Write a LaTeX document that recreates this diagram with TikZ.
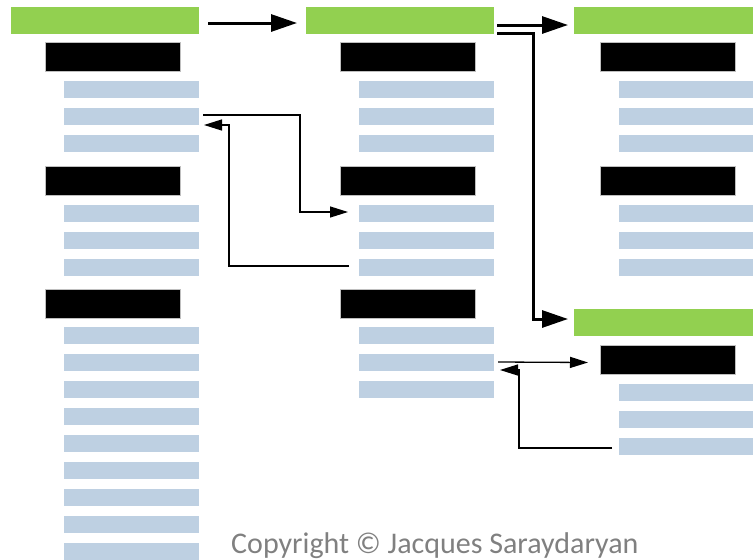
\documentclass[tikz,border=0pt]{standalone}
\usepackage{fontspec}
\setmainfont{Carlito}
\usetikzlibrary{arrows.meta,calc}
\definecolor{bargreen}{HTML}{92D050}
\definecolor{barblue}{HTML}{BED0E2}
\definecolor{notegray}{HTML}{808080}
\begin{document}
\begin{tikzpicture}[x=1pt,y=-1pt,
  greenbar/.style={fill=bargreen, minimum width=188pt, minimum height=27pt, inner sep=0pt, outer sep=0pt, anchor=north west},
  headbox/.style={fill=black, draw=black!25, line width=0.6pt, minimum width=135pt, minimum height=29pt, inner sep=0pt, outer sep=0pt, anchor=north west},
  fieldbar/.style={fill=barblue, minimum width=135pt, minimum height=17pt, inner sep=0pt, outer sep=0pt, anchor=north west},
  bigarrow/.style={line width=3pt, -{Triangle[length=26pt,width=17pt]}},
  linkarrow/.style={line width=1.3pt, -{Triangle[length=18pt,width=11pt]}}]
\useasboundingbox (0,0) rectangle (753,560);

% first column
\node[greenbar] (a0) at (11,7) {};
\node[headbox] (a1) at (45,42) {};
\foreach \i/\y in {1/81,2/108,3/135} \node[fieldbar] (a1\i) at (64,\y) {};
\node[headbox] (a2) at (45,166) {};
\foreach \i/\y in {1/205,2/232,3/259} \node[fieldbar] (a2\i) at (64,\y) {};
\node[headbox] (a3) at (45,289) {};
\foreach \i/\y in {1/327,2/354,3/381,4/408,5/435,6/462,7/489,8/516,9/543} \node[fieldbar] (a3\i) at (64,\y) {};

% second column
\node[greenbar] (b0) at (306,7) {};
\node[headbox] (b1) at (340,42) {};
\foreach \i/\y in {1/81,2/108,3/135} \node[fieldbar] (b1\i) at (359,\y) {};
\node[headbox] (b2) at (340,166) {};
\foreach \i/\y in {1/205,2/232,3/259} \node[fieldbar] (b2\i) at (359,\y) {};
\node[headbox] (b3) at (340,289) {};
\foreach \i/\y in {1/327,2/354,3/381} \node[fieldbar] (b3\i) at (359,\y) {};

% third column, upper block
\node[greenbar] (c0) at (574,7) {};
\node[headbox] (c1) at (600,42) {};
\foreach \i/\y in {1/81,2/108,3/135} \node[fieldbar] (c1\i) at (619,\y) {};
\node[headbox] (c2) at (600,166) {};
\foreach \i/\y in {1/205,2/232,3/259} \node[fieldbar] (c2\i) at (619,\y) {};

% third column, lower block
\node[greenbar] (d0) at (574,309) {};
\node[headbox] (d1) at (600,345) {};
\foreach \i/\y in {1/384,2/411,3/438} \node[fieldbar] (d1\i) at (619,\y) {};

% thick links between blocks
\draw[bigarrow] ([shift={(9,2.5)}]a0.east) -- ([shift={(-9,2.5)}]b0.west);
\draw[bigarrow] ([shift={(3,4.5)}]b0.east) -- ([shift={(-6,4.5)}]c0.west);
\draw[bigarrow] ([shift={(3,12.5)}]b0.east) -- ++(36,0) |- ([shift={(-6,-3.5)}]d0.west);

% thin links between fields
\draw[linkarrow] ([shift={(4,-1.5)}]a12.east) -- ++(97,0) |- ([shift={(-11,-1.5)}]b21.west);
\draw[linkarrow] ([shift={(-10,-1.5)}]b23.west) -- ++(-120,0) |- ([shift={(5,8.5)}]a12.east);
\draw[linkarrow] ([shift={(4,-0.5)}]b32.east) -- ([shift={(-12,3)}]d1.west);
\draw[linkarrow] ([shift={(-7,1.5)}]d13.west) -- ++(-93,0) |- ([shift={(6,7.5)}]b32.east);

% footer
\node[anchor=base west, text=notegray, font=\fontsize{30}{36}\selectfont, inner sep=0pt] (copy) at (231,553) {Copyright © Jacques Saraydaryan};
\end{tikzpicture}
\end{document}
